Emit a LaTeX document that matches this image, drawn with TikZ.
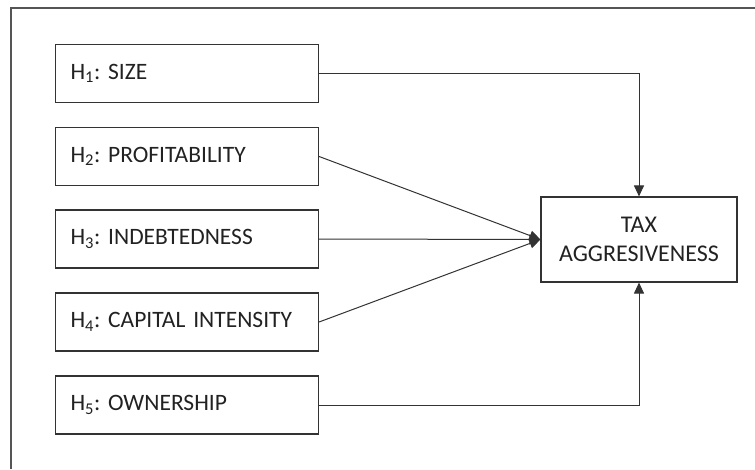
\documentclass[tikz,border=0pt]{standalone}
\usepackage{fontspec}
\setmainfont{Carlito}
\usetikzlibrary{arrows.meta}
\definecolor{linec}{HTML}{333333}
\definecolor{framec}{HTML}{555555}
\definecolor{textc}{HTML}{222222}
\frenchspacing
\begin{document}
\begin{tikzpicture}[x=1pt,y=-1pt,
  hbox/.style={draw=linec, line width=1.1pt, minimum width=263pt, minimum height=58pt,
    text width=233pt, inner xsep=15pt, align=left, font=\fontsize{23.5}{28}\selectfont, text=textc, anchor=west},
  tbox/.style={draw=linec, line width=1.1pt, minimum width=196pt, minimum height=85pt,
    align=center, font=\fontsize{24}{29}\selectfont, text=textc},
  conn/.style={draw=linec, line width=1pt, -{Triangle[length=11pt,width=10pt]}}]
\useasboundingbox (0,0) rectangle (755,469);
\fill[white] (0,0) rectangle (755,469);
\draw[framec, line width=1.4pt] (11,469) -- (11,8) -- (755,8);
\node[hbox] (h1) at (55,73.5) {H\textsubscript{1}: SIZE};
\node[hbox] (h2) at (55,156.5) {H\textsubscript{2}: PROFITABILITY};
\node[hbox] (h3) at (55,239) {H\textsubscript{3}: INDEBTEDNESS};
\node[hbox] (h4) at (55,322) {H\textsubscript{4}: CAPITAL INTENSITY};
\node[hbox] (h5) at (55,405) {H\textsubscript{5}: OWNERSHIP};
\node[tbox] (t) at (639,239.5) {TAX\\AGGRESIVENESS};
\draw[conn] (h1.east) -| (t.north);
\draw[conn] (h5.east) -| (t.south);
\draw[conn] (h2.east) -- (t.west);
\draw[conn] (h3.east) -- (t.west);
\draw[conn] (h4.east) -- (t.west);
\end{tikzpicture}
\end{document}
